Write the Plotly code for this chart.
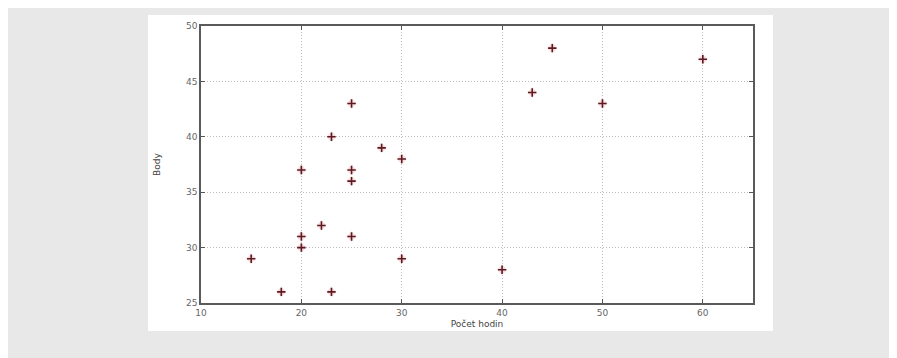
import plotly.graph_objects as go

hours = [15, 18, 20, 20, 20, 22, 23, 23, 25, 25, 25, 25, 28, 30, 30, 40, 43, 45, 50, 60]
points = [29, 26, 37, 31, 30, 32, 40, 26, 43, 37, 36, 31, 39, 38, 29, 28, 44, 48, 43, 47]
x_ticks = [10, 20, 30, 40, 50, 60]
y_ticks = [25, 30, 35, 40, 45, 50]
x_title = "Počet hodin"
y_title = "Body"

# page adds an 8px body margin; figure coordinates are relative to that
OFF = 8
W, H = 897 - OFF, 358 - OFF
L, R, T, B = 201 - OFF, 753 - OFF, 26 - OFF, 303 - OFF
pw, ph = R - L, B - T

def px(x):
    return (x - OFF - L) / pw

def py(y):
    return (B - (y - OFF)) / ph

fig = go.Figure()
fig.add_trace(go.Scatter(
    x=hours, y=points, mode="markers",
    marker=dict(symbol="diamond", size=8, color="rgba(230,160,160,0.35)", line=dict(width=0)),
    hoverinfo="skip", showlegend=False))
fig.add_trace(go.Scatter(
    x=hours, y=points, mode="markers",
    marker=dict(symbol="cross-thin", size=6, line=dict(width=1.6, color="#5e1a22")),
    showlegend=False))

shapes = [
    dict(type="rect", xref="paper", yref="paper", x0=px(148), x1=px(773), y0=py(331), y1=py(15),
         fillcolor="white", line=dict(width=0), layer="below"),
]

axis_common = dict(
    showgrid=True, gridcolor="#bdbdbd", griddash="1px,2px", gridwidth=1,
    showline=True, linecolor="#5a5a5a", linewidth=1.5, mirror="ticks",
    ticks="inside", ticklen=4, tickcolor="#555555", zeroline=False,
    tickfont=dict(family="DejaVu Sans", size=9, color="#666666"),
)

fig.update_layout(
    width=W, height=H,
    margin=dict(l=L, r=W - R, t=T, b=H - B),
    paper_bgcolor="#e8e8e8", plot_bgcolor="white",
    shapes=shapes,
    xaxis=dict(range=[10, 65], tickvals=x_ticks, **axis_common,
               title=dict(text=x_title, font=dict(family="DejaVu Sans", size=9, color="#444444"), standoff=4)),
    yaxis=dict(range=[25, 50], tickvals=y_ticks, **axis_common,
               title=dict(text=y_title, font=dict(family="DejaVu Sans", size=9, color="#444444"), standoff=24)),
)

fig.write_html("out.html")
